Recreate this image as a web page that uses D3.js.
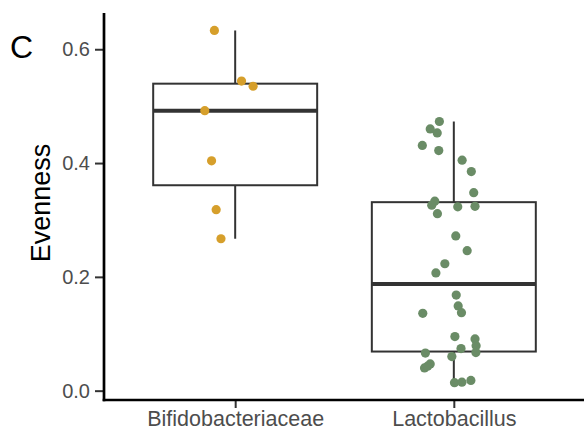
<!DOCTYPE html>
<html>
<head>
<meta charset="utf-8">
<script src="https://cdn.jsdelivr.net/npm/d3@7"></script>
<style>
  body { margin: 0; background: #fff; }
  .container text { font-family: "Liberation Sans", Arial, Helvetica, sans-serif; }
  .tick text { fill: #4d4d4d; }
</style>
</head>
<body>
<div class="container"></div>
<script>
const WIDTH = 584;
const HEIGHT = 432;

const AXIS_X = 104;
const AXIS_Y = 400;
const PANEL_TOP = 13;
const PANEL_RIGHT = 585;

// data
const categories = ['Bifidobacteriaceae', 'Lactobacillus'];

const bifidoEvenness = [0.633, 0.544, 0.535, 0.492, 0.404, 0.318, 0.267];
const bifidoJitter = [-0.095, 0.029, 0.082, -0.139, -0.108, -0.087, -0.065];

const lactoEvenness = [0.473, 0.460, 0.453, 0.431, 0.422, 0.405, 0.385, 0.348,
    0.333, 0.326, 0.323, 0.324, 0.311, 0.272, 0.246, 0.223, 0.207, 0.168,
    0.149, 0.137, 0.136, 0.095, 0.091, 0.079, 0.074, 0.067, 0.066, 0.060,
    0.047, 0.040, 0.043, 0.014, 0.015, 0.018];
const lactoJitter = [-0.066, -0.108, -0.076, -0.144, -0.069, 0.038, 0.080, 0.091,
    -0.087, -0.101, 0.018, 0.097, -0.075, 0.009, 0.061, -0.041, -0.082, 0.011,
    0.020, 0.035, -0.142, 0.005, 0.097, 0.102, 0.033, 0.101, -0.130, -0.009,
    -0.108, -0.134, -0.120, 0.003, 0.037, 0.078];

const yTicks = [0.0, 0.2, 0.4, 0.6];
const colors = ['#d69f2b', '#6a8c66'];

var groups = [
    {name: categories[0], values: bifidoEvenness, jitter: bifidoJitter, color: colors[0]},
    {name: categories[1], values: lactoEvenness, jitter: lactoJitter, color: colors[1]}
];

var xScale = d3.scalePoint()
    .domain(categories)
    .range([AXIS_X, PANEL_RIGHT])
    .padding(0.6);

var yScale = d3.scaleLinear()
    .domain([-0.0164, 0.6637])
    .range([AXIS_Y, PANEL_TOP]);

var boxStats = function(values){
    var s = values.slice().sort(d3.ascending);
    var q1 = d3.quantile(s, 0.25);
    var q3 = d3.quantile(s, 0.75);
    var iqr = q3 - q1;
    var lo = d3.min(s.filter(function(v){ return v >= q1 - 1.5 * iqr; }));
    var hi = d3.max(s.filter(function(v){ return v <= q3 + 1.5 * iqr; }));
    return {q1: q1, median: d3.quantile(s, 0.5), q3: q3, lo: lo, hi: hi};
};

var drawBoxes = function(svg){
    var boxWidth = xScale.step() * 0.75;
    groups.forEach(function(g){
        var st = boxStats(g.values);
        var cx = xScale(g.name);
        var b = svg.append('g').attr('stroke', '#333333').attr('fill', 'none');
        b.append('line')
            .attr('x1', cx).attr('x2', cx)
            .attr('y1', yScale(st.hi)).attr('y2', yScale(st.q3))
            .attr('stroke-width', 2);
        b.append('line')
            .attr('x1', cx).attr('x2', cx)
            .attr('y1', yScale(st.q1)).attr('y2', yScale(st.lo))
            .attr('stroke-width', 2);
        b.append('rect')
            .attr('x', cx - boxWidth / 2)
            .attr('y', yScale(st.q3))
            .attr('width', boxWidth)
            .attr('height', yScale(st.q1) - yScale(st.q3))
            .attr('fill', '#fff')
            .attr('stroke-width', 2);
        b.append('line')
            .attr('x1', cx - boxWidth / 2).attr('x2', cx + boxWidth / 2)
            .attr('y1', yScale(st.median)).attr('y2', yScale(st.median))
            .attr('stroke-width', 4);
    });
};

var drawPoints = function(svg){
    groups.forEach(function(g){
        svg.append('g').selectAll('circle')
            .data(g.values)
            .enter()
            .append('circle')
            .attr('r', 4.6)
            .attr('cx', function(d, i){ return xScale(g.name) + g.jitter[i] * xScale.step(); })
            .attr('cy', function(d){ return yScale(d); })
            .attr('fill', g.color);
    });
};

var drawAxes = function(svg){
    var yAxis = d3.axisLeft(yScale)
        .tickValues(yTicks)
        .tickFormat(d3.format('.1f'))
        .tickSize(9)
        .tickPadding(5);
    var gy = svg.append('g')
        .attr('transform', 'translate(' + AXIS_X + ',0)')
        .call(yAxis);
    gy.select('.domain').remove();
    gy.selectAll('.tick line').attr('stroke', '#333333').attr('stroke-width', 2);
    gy.selectAll('.tick text').attr('font-size', 20);

    var xAxis = d3.axisBottom(xScale)
        .tickSize(8)
        .tickPadding(3);
    var gx = svg.append('g')
        .attr('transform', 'translate(0,' + AXIS_Y + ')')
        .call(xAxis);
    gx.select('.domain').remove();
    gx.selectAll('.tick line').attr('stroke', '#333333').attr('stroke-width', 2);
    gx.selectAll('.tick text').attr('font-size', 21.5);

    svg.append('line')
        .attr('x1', AXIS_X).attr('x2', AXIS_X)
        .attr('y1', PANEL_TOP).attr('y2', AXIS_Y + 1.3)
        .attr('stroke', '#000').attr('stroke-width', 2.7);
    svg.append('line')
        .attr('x1', AXIS_X - 1.3).attr('x2', PANEL_RIGHT)
        .attr('y1', AXIS_Y).attr('y2', AXIS_Y)
        .attr('stroke', '#000').attr('stroke-width', 2.7);

    svg.append('text')
        .attr('transform', 'translate(50,203) rotate(-90)')
        .attr('text-anchor', 'middle')
        .attr('font-size', 27)
        .attr('fill', '#000')
        .text('Evenness');

    svg.append('text')
        .attr('x', 10)
        .attr('y', 58)
        .attr('font-size', 32)
        .attr('fill', '#000')
        .text('C');
};

var loadChart = function(){
    var svg = d3.select('.container').append('svg')
        .attr('width', WIDTH)
        .attr('height', HEIGHT);

    drawBoxes(svg);
    drawPoints(svg);
    drawAxes(svg);
};

window.onload = loadChart;
</script>
</body>
</html>
